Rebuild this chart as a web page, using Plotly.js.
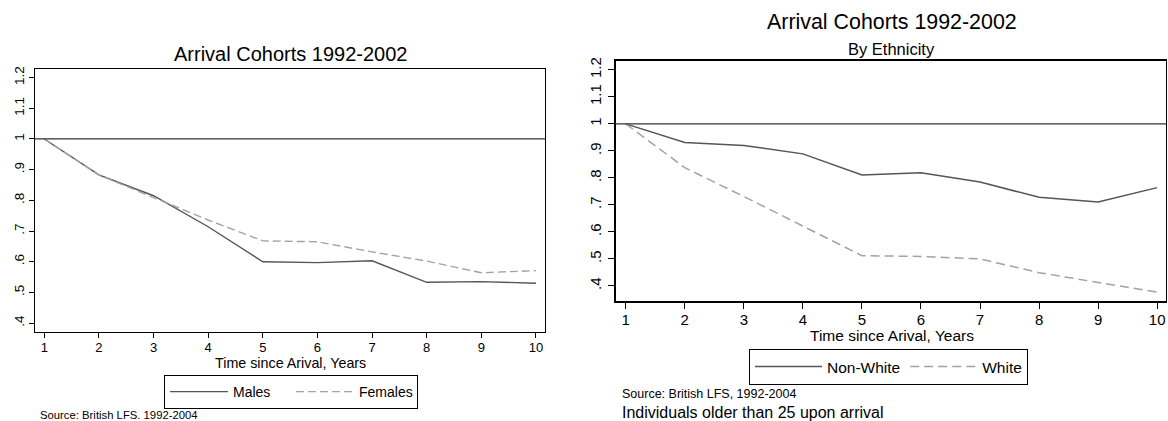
<!DOCTYPE html>
<html>
<head>
<meta charset="utf-8">
<script src="https://cdn.plot.ly/plotly-3.0.1.min.js"></script>
<style>
  html, body { margin: 0; padding: 0; background: #ffffff; }
  #chart { width: 1168px; height: 421px; }
</style>
</head>
<body>
<div id="chart"></div>
<script>
// ---- data ----
const years = [1, 2, 3, 4, 5, 6, 7, 8, 9, 10];
const males   = [1.000, 0.883, 0.815, 0.714, 0.600, 0.597, 0.603, 0.533, 0.535, 0.530];
const females = [1.000, 0.883, 0.809, 0.736, 0.668, 0.665, 0.632, 0.602, 0.564, 0.571];
const nonWhite = [1.000, 0.931, 0.920, 0.889, 0.811, 0.819, 0.785, 0.728, 0.711, 0.764];
const white    = [1.000, 0.838, 0.731, 0.620, 0.512, 0.509, 0.500, 0.449, 0.412, 0.377];
const referenceLevel = 1;
const yTickVals = [0.4, 0.5, 0.6, 0.7, 0.8, 0.9, 1.0, 1.1, 1.2];
const yTickText = [".4", ".5", ".6", ".7", ".8", ".9", "1", "1.1", "1.2"];
const xTickVals = [1, 2, 3, 4, 5, 6, 7, 8, 9, 10];

const W = 1168, H = 421;
const px = v => v / W;
const py = v => 1 - v / H;
const FONT = "Liberation Sans, Arial, Helvetica, sans-serif";
const solidColor = "#555555";
const dashColor = "#a3a3a3";

const traces = [
  {x: years, y: males, name: "Males", type: "scatter", mode: "lines",
   line: {color: solidColor, width: 1.4}, xaxis: "x", yaxis: "y", legend: "legend"},
  {x: years, y: females, name: "Females", type: "scatter", mode: "lines",
   line: {color: dashColor, width: 1.4, dash: "8px,4px"}, xaxis: "x", yaxis: "y", legend: "legend"},
  {x: years, y: nonWhite, name: "Non-White", type: "scatter", mode: "lines",
   line: {color: solidColor, width: 1.5}, xaxis: "x2", yaxis: "y2", legend: "legend2"},
  {x: years, y: white, name: "White", type: "scatter", mode: "lines",
   line: {color: dashColor, width: 1.5, dash: "9px,5px"}, xaxis: "x2", yaxis: "y2", legend: "legend2"}
];

function xAxis(domain, range, size, tlen, anchor) {
  return {
    domain: domain, range: range, anchor: anchor, automargin: false,
    tickmode: "array", tickvals: xTickVals, ticktext: xTickVals.map(String),
    ticks: "outside", ticklen: tlen, tickwidth: 1, tickcolor: "#000",
    showline: true, mirror: true, linecolor: "#000", linewidth: 1.3,
    showgrid: false, zeroline: false, ticklabelstandoff: -2,
    tickfont: {family: FONT, size: size, color: "#000"}
  };
}
function yAxis(domain, range, size, tlen, anchor, standoff) {
  return {
    domain: domain, range: range, anchor: anchor, automargin: false,
    tickmode: "array", tickvals: yTickVals, ticktext: yTickText,
    tickangle: -90,
    ticks: "outside", ticklen: tlen, tickwidth: 1, tickcolor: "#000",
    showline: true, mirror: true, linecolor: "#000", linewidth: 1.3,
    showgrid: false, zeroline: false, ticklabelstandoff: standoff,
    tickfont: {family: FONT, size: size, color: "#000"}
  };
}

const layout = {
  width: W, height: H,
  margin: {l: 0, r: 0, t: 0, b: 0, autoexpand: false},
  paper_bgcolor: "#fff", plot_bgcolor: "#fff",
  font: {family: FONT, color: "#000"},
  showlegend: true,
  xaxis: xAxis([px(35), px(545)], [0.83, 10.165], 13, 5, "y"),
  yaxis: yAxis([1 - 332 / H, 1 - 69 / H], [0.371, 1.228], 13.5, 5, "x", -1),
  xaxis2: xAxis([px(615.7), px(1166)], [0.83, 10.15], 15, 6, "y2"),
  yaxis2: yAxis([1 - 301.3 / H, 1 - 60.7 / H], [0.343, 1.234], 15, 6, "x2", 1),
  shapes: [
    {type: "line", xref: "x domain", yref: "y", x0: 0, x1: 1, y0: referenceLevel, y1: referenceLevel,
     line: {color: "#333", width: 1.3}},
    {type: "line", xref: "x2 domain", yref: "y2", x0: 0, x1: 1, y0: referenceLevel, y1: referenceLevel,
     line: {color: "#333", width: 1.3}}
  ],
  legend: {
    x: px(164), xanchor: "left", y: py(375), yanchor: "top",
    orientation: "h", bordercolor: "#000", borderwidth: 1, bgcolor: "#fff",
    itemwidth: 58, entrywidth: 53, entrywidthmode: "pixels",
    font: {family: FONT, size: 14, color: "#000"}
  },
  legend2: {
    x: px(749), xanchor: "left", y: py(349), yanchor: "top",
    orientation: "h", bordercolor: "#000", borderwidth: 1, bgcolor: "#fff",
    itemwidth: 67,
    font: {family: FONT, size: 15.5, color: "#000"}
  },
  annotations: [
    {text: "Arrival Cohorts 1992-2002", xref: "paper", yref: "paper", x: px(290.5), y: py(54.5),
     xanchor: "center", yanchor: "middle", showarrow: false, font: {family: FONT, size: 20, color: "#000"}},
    {text: "Arrival Cohorts 1992-2002", xref: "paper", yref: "paper", x: px(891.5), y: py(22.5),
     xanchor: "center", yanchor: "middle", showarrow: false, font: {family: FONT, size: 21.4, color: "#000"}},
    {text: "By Ethnicity", xref: "paper", yref: "paper", x: px(891.5), y: py(48.5),
     xanchor: "center", yanchor: "middle", showarrow: false, font: {family: FONT, size: 16.5, color: "#000"}},
    {text: "Time since Arival, Years", xref: "paper", yref: "paper", x: px(290.3), y: py(363),
     xanchor: "center", yanchor: "middle", showarrow: false, font: {family: FONT, size: 14.3, color: "#000"}},
    {text: "Time since Arival, Years", xref: "paper", yref: "paper", x: px(892), y: py(335),
     xanchor: "center", yanchor: "middle", showarrow: false, font: {family: FONT, size: 15.5, color: "#000"}},
    {text: "Source: British LFS. 1992-2004", xref: "paper", yref: "paper", x: px(37.5), y: py(415),
     xanchor: "left", yanchor: "middle", showarrow: false, font: {family: FONT, size: 11.3, color: "#000"}},
    {text: "Source: British LFS, 1992-2004", xref: "paper", yref: "paper", x: px(619.5), y: py(394),
     xanchor: "left", yanchor: "middle", showarrow: false, font: {family: FONT, size: 12.5, color: "#000"}},
    {text: "Individuals older than 25 upon arrival", xref: "paper", yref: "paper", x: px(619.5), y: py(412.5),
     xanchor: "left", yanchor: "middle", showarrow: false, font: {family: FONT, size: 16, color: "#000"}}
  ]
};

Plotly.newPlot("chart", traces, layout, {displayModeBar: false, staticPlot: true});
</script>
</body>
</html>
